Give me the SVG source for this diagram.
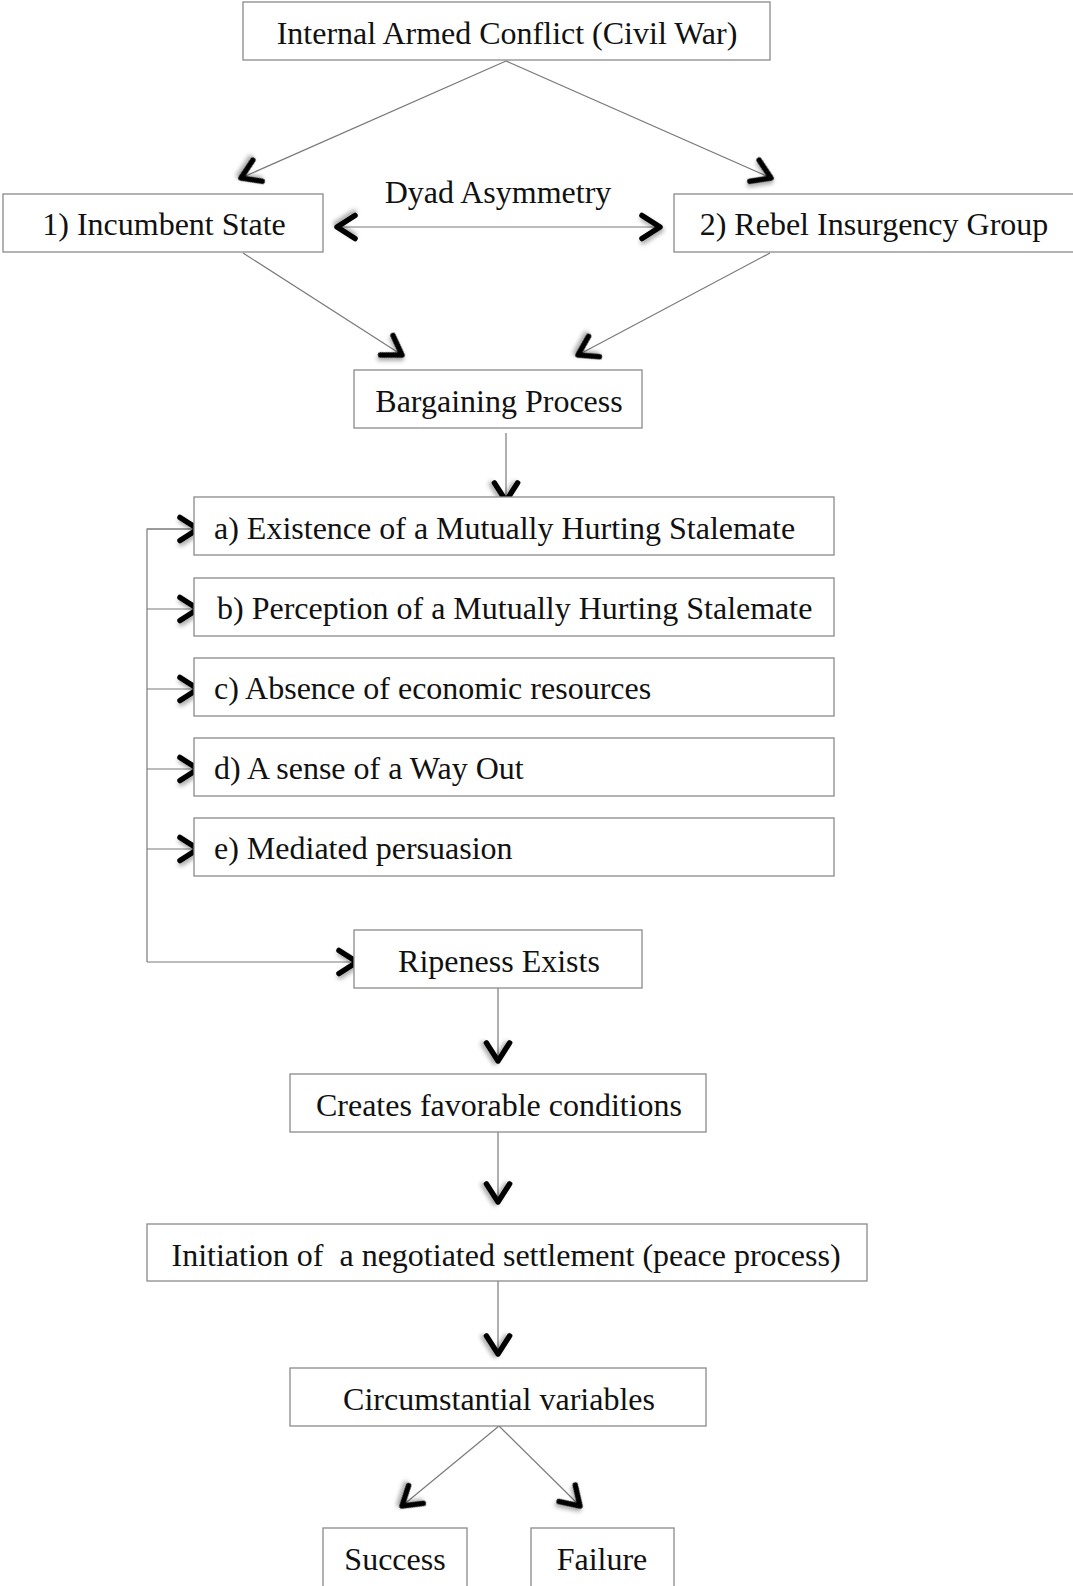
<svg xmlns="http://www.w3.org/2000/svg" width="1073" height="1586" viewBox="0 0 1073 1586">
<style>
  .box { fill: #ffffff; stroke: #8a8a8a; stroke-width: 1.3; }
  .lbl { font-family: "Liberation Serif", "Times New Roman", serif; font-size: 32px; fill: #111; white-space: pre; }
  .mid { text-anchor: middle; }
  .ln { fill: none; stroke: #7a7a7a; stroke-width: 1.2; marker-end: url(#ah); }
  .ln2 { fill: none; stroke: #7a7a7a; stroke-width: 1.2; }
</style>
<defs>
  <filter id="sh" x="-100%" y="-100%" width="300%" height="300%">
    <feDropShadow dx="1" dy="3" stdDeviation="2" flood-color="#000" flood-opacity="0.35"/>
  </filter>
  <marker id="ah" markerUnits="userSpaceOnUse" orient="auto-start-reverse" refX="0" refY="0" markerWidth="30" markerHeight="30" overflow="visible">
    <path d="M -18 -11.5 L 0 0 L -18 11.5" fill="none" stroke="#000" stroke-width="5.5" stroke-linecap="round" stroke-linejoin="round" filter="url(#sh)"/>
  </marker>
</defs>
<rect width="1073" height="1586" fill="#ffffff"/>

<g id="connectors">
  <line class="ln" x1="506" y1="61" x2="241" y2="178"/>
  <line class="ln" x1="506" y1="61" x2="771" y2="178"/>
  <line class="ln" x1="337" y1="227" x2="660" y2="227" marker-start="url(#ah)"/>
  <line class="ln" x1="243" y1="253" x2="402" y2="355"/>
  <line class="ln" x1="770" y1="253" x2="578" y2="355"/>
  <line class="ln" x1="506" y1="433" x2="506" y2="501"/>
  <polyline class="ln2" points="198,529 147,529 147,962"/>
  <line class="ln" x1="147" y1="529" x2="198" y2="529"/>
  <line class="ln" x1="147" y1="609" x2="198" y2="609"/>
  <line class="ln" x1="147" y1="689" x2="198" y2="689"/>
  <line class="ln" x1="147" y1="769" x2="198" y2="769"/>
  <line class="ln" x1="147" y1="849" x2="198" y2="849"/>
  <line class="ln" x1="147" y1="962" x2="357" y2="962"/>
  <line class="ln" x1="498" y1="988" x2="498" y2="1061"/>
  <line class="ln" x1="498" y1="1132" x2="498" y2="1202"/>
  <line class="ln" x1="498" y1="1281" x2="498" y2="1354"/>
  <line class="ln" x1="499" y1="1426" x2="402" y2="1506"/>
  <line class="ln" x1="499" y1="1426" x2="580" y2="1506"/>
</g>

<g id="n_conflict">
  <rect class="box" x="243" y="2" width="527" height="58"/>
  <text class="lbl mid" x="507" y="44">Internal Armed Conflict (Civil War)</text>
</g>
<g id="n_state">
  <rect class="box" x="3" y="194" width="320" height="58"/>
  <text class="lbl mid" x="164" y="235">1) Incumbent State</text>
</g>
<g id="n_dyad">
  <text class="lbl mid" x="498" y="203">Dyad Asymmetry</text>
</g>
<g id="n_rebel">
  <rect class="box" x="674" y="194" width="410" height="58"/>
  <text class="lbl mid" x="874" y="235">2) Rebel Insurgency Group</text>
</g>
<g id="n_bargain">
  <rect class="box" x="354" y="370" width="288" height="58"/>
  <text class="lbl mid" x="499" y="412">Bargaining Process</text>
</g>
<g id="n_a">
  <rect class="box" x="194" y="497" width="640" height="58"/>
  <text class="lbl" x="214" y="539">a) Existence of a Mutually Hurting Stalemate</text>
</g>
<g id="n_b">
  <rect class="box" x="194" y="578" width="640" height="58"/>
  <text class="lbl" x="217" y="619">b) Perception of a Mutually Hurting Stalemate</text>
</g>
<g id="n_c">
  <rect class="box" x="194" y="658" width="640" height="58"/>
  <text class="lbl" x="214" y="699">c) Absence of economic resources</text>
</g>
<g id="n_d">
  <rect class="box" x="194" y="738" width="640" height="58"/>
  <text class="lbl" x="214" y="779">d) A sense of a Way Out</text>
</g>
<g id="n_e">
  <rect class="box" x="194" y="818" width="640" height="58"/>
  <text class="lbl" x="214" y="859">e) Mediated persuasion</text>
</g>
<g id="n_ripe">
  <rect class="box" x="354" y="930" width="288" height="58"/>
  <text class="lbl mid" x="499" y="972">Ripeness Exists</text>
</g>
<g id="n_creates">
  <rect class="box" x="290" y="1074" width="416" height="58"/>
  <text class="lbl mid" x="499" y="1116">Creates favorable conditions</text>
</g>
<g id="n_init">
  <rect class="box" x="147" y="1224" width="720" height="57"/>
  <text class="lbl mid" x="506" y="1266">Initiation of  a negotiated settlement (peace process)</text>
</g>
<g id="n_circ">
  <rect class="box" x="290" y="1368" width="416" height="58"/>
  <text class="lbl mid" x="499" y="1410">Circumstantial variables</text>
</g>
<g id="n_success">
  <rect class="box" x="323" y="1528" width="144" height="60"/>
  <text class="lbl mid" x="395" y="1570">Success</text>
</g>
<g id="n_failure">
  <rect class="box" x="531" y="1528" width="143" height="60"/>
  <text class="lbl mid" x="602" y="1570">Failure</text>
</g>
</svg>
